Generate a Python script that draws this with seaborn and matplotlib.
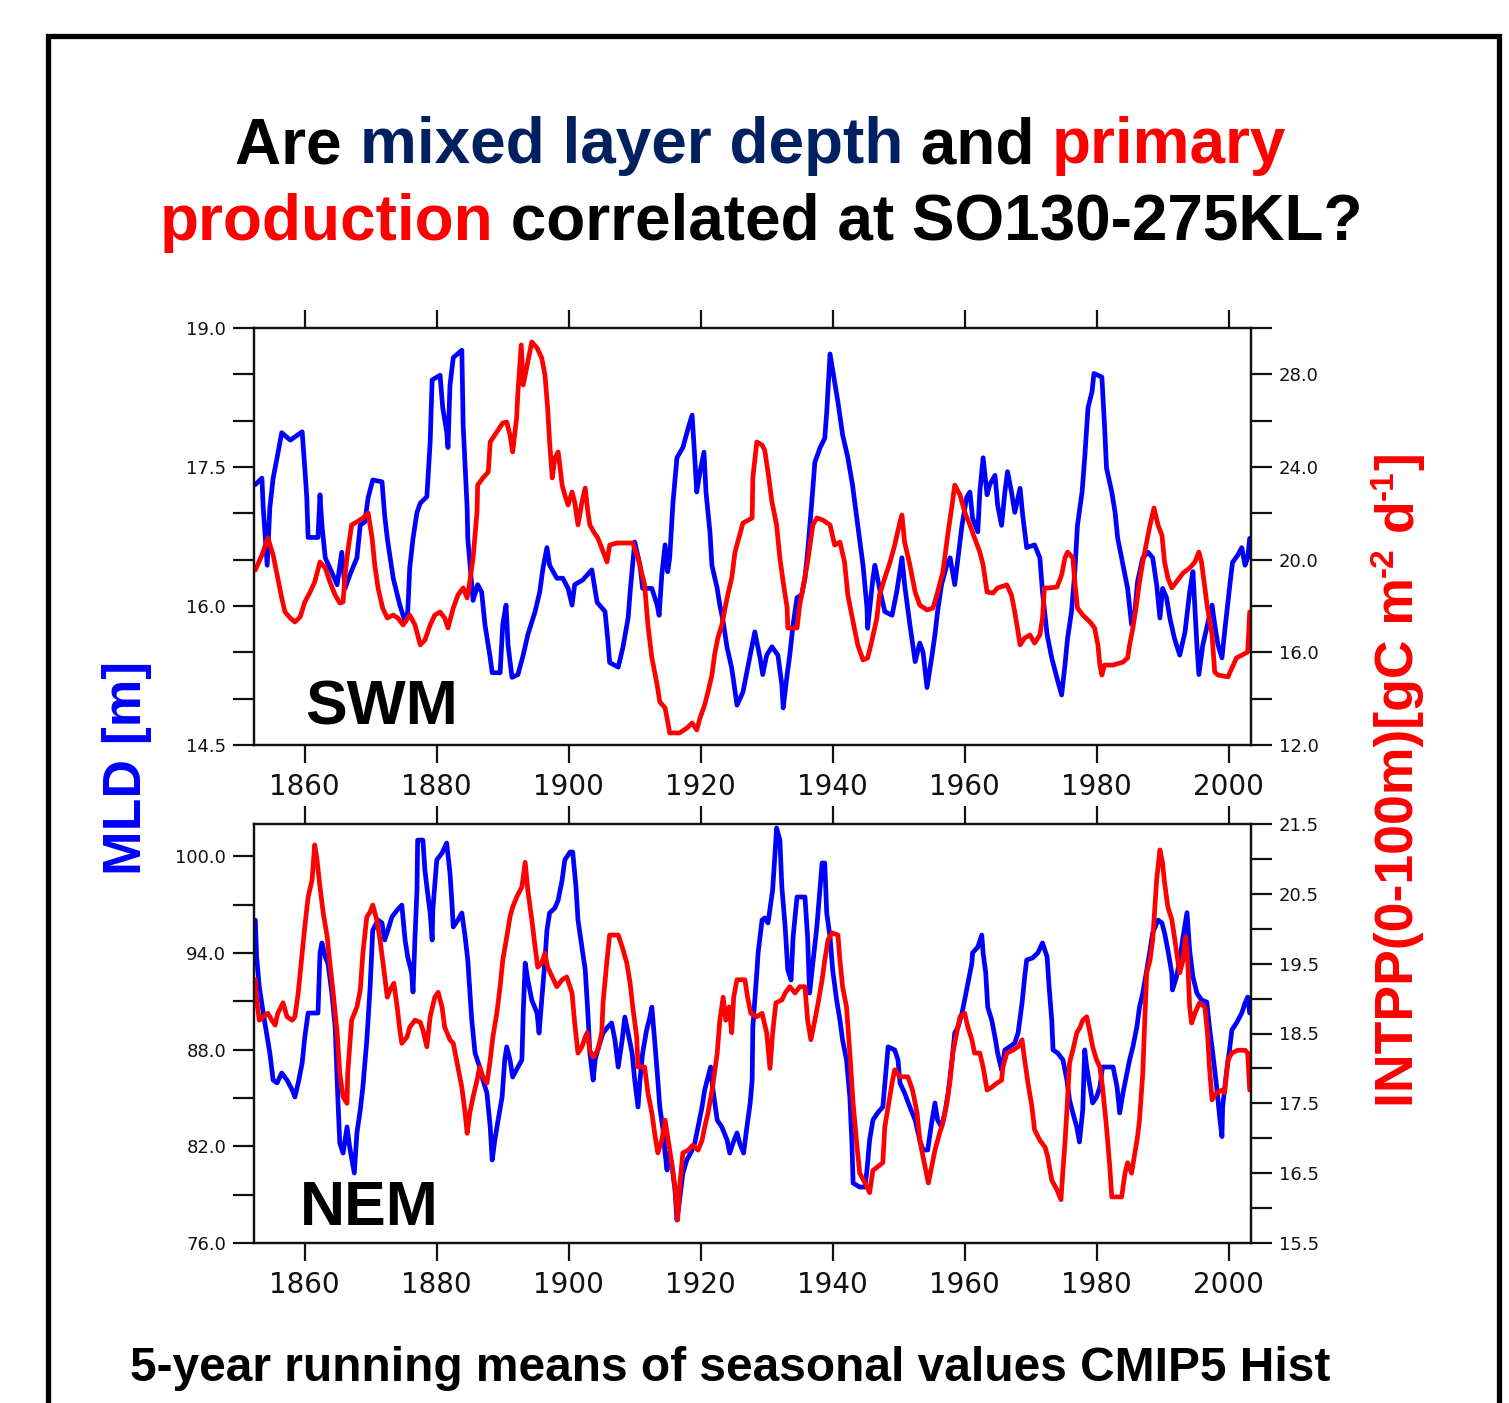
import numpy as np
import matplotlib
matplotlib.use("Agg")
import matplotlib.pyplot as plt
import seaborn as sns
from matplotlib.ticker import FixedLocator, FormatStrFormatter
from matplotlib.patches import Rectangle

sns.set_style("white")
plt.rcParams['font.family'] = ['Liberation Sans', 'DejaVu Sans']

# ---------------- data ----------------
swm_mld_year = [1852.5, 1853.5, 1853.7, 1854.3, 1854.7, 1855.2, 1855.8, 1856.5, 1857.8, 1859.6, 1860.0, 1860.3, 1860.5, 1862.0, 1862.3, 1862.6, 1863.1, 1863.8, 1864.9, 1865.6, 1866.1, 1866.8, 1867.9, 1868.4, 1869.1, 1869.6, 1870.3, 1871.7, 1872.1, 1872.5, 1873.4, 1874.4, 1875.2, 1875.6, 1875.9, 1876.4, 1877.0, 1877.5, 1878.5, 1879.0, 1879.3, 1880.5, 1880.9, 1881.5, 1881.7, 1882.0, 1882.5, 1883.8, 1884.0, 1884.6, 1884.7, 1885.3, 1885.5, 1886.2, 1886.8, 1887.3, 1888.1, 1888.4, 1889.6, 1890.0, 1890.5, 1890.8, 1891.4, 1892.3, 1893.1, 1893.8, 1894.9, 1895.6, 1896.1, 1896.7, 1897.1, 1898.2, 1899.1, 1899.9, 1900.5, 1900.9, 1902.1, 1903.5, 1904.3, 1905.5, 1905.9, 1906.2, 1907.5, 1908.2, 1909.0, 1909.3, 1910.0, 1910.8, 1911.2, 1912.6, 1913.4, 1913.7, 1914.1, 1914.6, 1915.0, 1915.3, 1915.8, 1916.4, 1917.3, 1918.1, 1918.7, 1919.1, 1919.4, 1919.9, 1920.5, 1920.8, 1921.4, 1921.7, 1922.5, 1922.9, 1923.4, 1924.0, 1924.7, 1925.5, 1926.4, 1927.0, 1927.5, 1928.2, 1929.0, 1929.4, 1930.0, 1930.8, 1931.7, 1932.3, 1932.5, 1933.1, 1933.5, 1934.0, 1934.6, 1935.3, 1935.8, 1936.2, 1936.8, 1937.3, 1938.1, 1938.8, 1939.1, 1939.3, 1939.6, 1940.3, 1940.8, 1941.5, 1942.3, 1943.0, 1943.8, 1944.6, 1945.2, 1945.3, 1946.1, 1946.4, 1947.1, 1947.9, 1949.0, 1949.7, 1950.5, 1950.9, 1951.7, 1952.5, 1953.2, 1953.7, 1954.3, 1955.0, 1955.5, 1955.9, 1956.5, 1957.3, 1957.8, 1958.5, 1959.0, 1959.6, 1960.3, 1960.8, 1961.2, 1962.0, 1962.3, 1962.8, 1963.4, 1963.8, 1964.6, 1965.0, 1965.6, 1966.1, 1966.5, 1967.1, 1967.6, 1968.4, 1968.8, 1969.4, 1970.6, 1971.4, 1971.8, 1972.5, 1973.2, 1974.0, 1974.7, 1975.2, 1975.6, 1976.2, 1976.7, 1977.1, 1977.8, 1978.2, 1978.7, 1979.3, 1979.6, 1980.8, 1981.2, 1981.5, 1982.3, 1982.8, 1983.2, 1984.0, 1984.7, 1985.3, 1985.8, 1986.2, 1987.0, 1987.8, 1988.5, 1989.1, 1989.6, 1990.0, 1990.6, 1991.1, 1991.8, 1992.6, 1993.4, 1994.1, 1994.6, 1995.2, 1995.5, 1996.1, 1996.8, 1997.5, 1997.9, 1998.4, 1999.0, 1999.4, 2000.2, 2000.6, 2001.4, 2002.0, 2002.5, 2002.9, 2003.2]
swm_mld = [17.31, 17.38, 17.06, 16.44, 17.06, 17.38, 17.60, 17.87, 17.79, 17.88, 17.49, 17.17, 16.74, 16.74, 17.20, 16.87, 16.52, 16.41, 16.23, 16.58, 16.19, 16.33, 16.52, 16.87, 16.91, 17.17, 17.36, 17.34, 16.98, 16.73, 16.30, 16.01, 15.83, 15.94, 16.41, 16.73, 17.01, 17.11, 17.18, 17.77, 18.44, 18.49, 18.14, 17.88, 17.71, 18.38, 18.68, 18.76, 17.95, 17.06, 16.73, 16.23, 16.06, 16.23, 16.15, 15.80, 15.44, 15.28, 15.28, 15.80, 16.01, 15.58, 15.23, 15.26, 15.47, 15.69, 15.94, 16.15, 16.41, 16.63, 16.44, 16.30, 16.30, 16.19, 16.01, 16.23, 16.28, 16.39, 16.04, 15.94, 15.65, 15.39, 15.34, 15.55, 15.87, 16.15, 16.69, 16.44, 16.19, 16.19, 16.01, 15.90, 16.33, 16.66, 16.37, 16.52, 17.12, 17.60, 17.71, 17.92, 18.06, 17.60, 17.23, 17.45, 17.66, 17.23, 16.80, 16.44, 16.19, 16.01, 15.83, 15.55, 15.33, 14.93, 15.07, 15.29, 15.47, 15.72, 15.44, 15.26, 15.47, 15.56, 15.47, 15.15, 14.90, 15.26, 15.47, 15.80, 16.09, 16.12, 16.30, 16.58, 17.09, 17.55, 17.71, 17.81, 18.09, 18.35, 18.72, 18.42, 18.20, 17.85, 17.60, 17.31, 16.87, 16.44, 15.98, 15.76, 16.30, 16.44, 16.19, 15.94, 15.90, 16.15, 16.52, 16.23, 15.80, 15.40, 15.60, 15.50, 15.12, 15.44, 15.69, 15.94, 16.23, 16.44, 16.52, 16.23, 16.52, 16.87, 17.17, 17.23, 16.95, 16.80, 17.23, 17.60, 17.20, 17.31, 17.41, 17.09, 16.87, 17.23, 17.45, 17.23, 17.01, 17.27, 16.98, 16.63, 16.66, 16.52, 16.15, 15.69, 15.44, 15.22, 15.04, 15.36, 15.65, 15.94, 16.37, 16.87, 17.23, 17.60, 18.14, 18.31, 18.51, 18.47, 17.95, 17.49, 17.23, 17.01, 16.73, 16.44, 16.19, 15.80, 15.94, 16.26, 16.52, 16.58, 16.52, 16.23, 15.87, 16.19, 16.09, 15.87, 15.65, 15.47, 15.72, 16.15, 16.37, 15.58, 15.26, 15.58, 15.80, 16.01, 15.80, 15.58, 15.44, 15.72, 16.23, 16.47, 16.55, 16.63, 16.44, 16.52, 16.73]

swm_pp_year = [1852.5, 1853.5, 1854.4, 1855.2, 1855.9, 1856.5, 1857.0, 1857.8, 1858.5, 1859.3, 1860.0, 1860.8, 1861.5, 1862.3, 1863.1, 1863.8, 1864.6, 1865.3, 1865.8, 1866.1, 1866.5, 1867.1, 1867.9, 1868.8, 1869.6, 1870.2, 1870.6, 1871.1, 1871.8, 1872.5, 1873.4, 1874.1, 1874.9, 1875.9, 1876.7, 1877.5, 1878.2, 1879.0, 1879.7, 1880.5, 1881.2, 1881.7, 1882.5, 1883.2, 1884.0, 1884.6, 1885.0, 1885.5, 1886.1, 1886.2, 1887.0, 1887.8, 1888.1, 1889.1, 1890.0, 1890.6, 1891.1, 1891.5, 1892.1, 1892.3, 1892.8, 1893.1, 1893.7, 1894.4, 1895.2, 1895.9, 1896.4, 1896.8, 1897.1, 1897.5, 1897.9, 1898.4, 1899.0, 1899.4, 1899.9, 1900.5, 1900.9, 1901.4, 1902.0, 1902.5, 1902.9, 1903.2, 1903.8, 1904.4, 1905.0, 1905.8, 1906.2, 1907.3, 1909.7, 1910.5, 1911.5, 1912.0, 1912.6, 1913.4, 1913.8, 1914.6, 1915.0, 1915.3, 1916.8, 1917.9, 1918.7, 1919.4, 1919.9, 1920.6, 1921.1, 1921.7, 1922.1, 1922.6, 1923.2, 1924.0, 1924.7, 1925.2, 1925.9, 1926.4, 1927.8, 1927.9, 1928.5, 1929.3, 1929.7, 1930.2, 1930.8, 1931.5, 1932.0, 1932.5, 1933.1, 1933.2, 1934.6, 1935.0, 1935.5, 1936.2, 1937.0, 1937.6, 1938.5, 1939.6, 1940.3, 1941.1, 1941.8, 1942.3, 1943.1, 1943.8, 1944.6, 1945.3, 1945.9, 1946.7, 1947.1, 1947.9, 1948.7, 1949.4, 1950.2, 1950.5, 1950.9, 1951.7, 1952.5, 1953.2, 1954.3, 1955.2, 1955.9, 1956.7, 1957.5, 1958.1, 1958.5, 1959.3, 1960.0, 1960.8, 1961.5, 1962.3, 1962.8, 1963.4, 1964.3, 1965.0, 1966.4, 1967.1, 1967.6, 1968.1, 1968.4, 1969.1, 1969.9, 1970.6, 1971.4, 1971.8, 1972.1, 1972.9, 1974.0, 1974.7, 1975.2, 1975.6, 1976.4, 1976.7, 1977.1, 1977.9, 1979.0, 1979.7, 1980.2, 1980.5, 1980.8, 1981.2, 1982.5, 1984.0, 1984.7, 1985.0, 1985.5, 1986.1, 1986.5, 1987.0, 1987.6, 1988.1, 1988.7, 1989.3, 1989.9, 1990.3, 1990.8, 1991.4, 1992.1, 1993.1, 1994.1, 1994.9, 1995.5, 1995.9, 1996.4, 1996.8, 1997.5, 1997.9, 1998.4, 1999.9, 2000.5, 2001.2, 2002.1, 2002.9, 2003.2]
swm_pp = [19.55, 20.20, 20.94, 20.20, 19.21, 18.35, 17.74, 17.48, 17.31, 17.53, 18.17, 18.60, 19.04, 19.90, 19.64, 19.04, 18.47, 18.13, 18.17, 19.34, 20.33, 21.50, 21.63, 21.80, 22.01, 20.94, 19.77, 18.78, 17.91, 17.48, 17.61, 17.48, 17.18, 17.61, 17.18, 16.32, 16.53, 17.18, 17.61, 17.74, 17.48, 17.05, 17.91, 18.47, 18.78, 18.35, 19.04, 20.07, 22.06, 23.22, 23.53, 23.78, 25.08, 25.51, 25.90, 25.94, 25.38, 24.65, 26.12, 27.24, 29.27, 27.54, 28.40, 29.40, 29.14, 28.71, 27.97, 26.55, 25.08, 23.53, 24.39, 24.65, 23.22, 22.79, 22.36, 22.92, 22.49, 21.50, 22.49, 23.09, 22.06, 21.50, 21.19, 20.94, 20.50, 19.90, 20.63, 20.72, 20.72, 20.07, 18.91, 17.18, 15.76, 14.59, 13.86, 13.60, 13.00, 12.52, 12.52, 12.73, 12.95, 12.65, 13.17, 13.73, 14.29, 15.02, 15.89, 16.62, 17.18, 18.35, 19.21, 20.33, 21.06, 21.58, 21.80, 23.53, 25.08, 24.95, 24.73, 23.78, 22.49, 21.50, 20.07, 19.04, 17.91, 17.05, 17.05, 18.04, 18.78, 19.90, 21.50, 21.80, 21.71, 21.50, 20.63, 20.76, 19.90, 18.47, 17.31, 16.32, 15.67, 15.76, 16.45, 17.48, 18.47, 19.21, 19.90, 20.63, 21.63, 21.93, 20.76, 19.77, 18.60, 18.04, 17.83, 17.91, 18.60, 19.47, 21.19, 22.36, 23.22, 22.79, 22.06, 21.50, 20.94, 20.33, 19.77, 18.60, 18.56, 18.78, 18.91, 18.47, 17.74, 16.88, 16.32, 16.62, 16.75, 16.40, 16.75, 17.48, 18.78, 18.78, 18.82, 19.34, 20.07, 20.33, 20.07, 19.04, 17.91, 17.61, 17.31, 17.05, 16.32, 15.45, 15.02, 15.45, 15.45, 15.58, 15.76, 16.32, 17.05, 18.17, 19.04, 19.90, 20.76, 21.50, 22.23, 21.50, 21.06, 19.90, 19.21, 18.78, 19.04, 19.42, 19.64, 19.90, 20.33, 19.90, 18.78, 17.91, 16.75, 15.15, 15.02, 14.94, 15.32, 15.76, 15.89, 16.02, 17.74]

nem_mld_year = [1852.5, 1852.7, 1853.1, 1853.7, 1854.3, 1854.7, 1855.2, 1855.8, 1856.5, 1857.3, 1858.1, 1858.5, 1859.0, 1859.6, 1860.0, 1860.5, 1862.0, 1862.3, 1862.6, 1863.1, 1863.5, 1864.1, 1864.6, 1865.0, 1865.3, 1865.8, 1866.4, 1866.8, 1867.5, 1867.9, 1868.4, 1868.8, 1869.4, 1869.9, 1870.3, 1871.1, 1871.7, 1872.1, 1872.6, 1873.2, 1874.0, 1874.7, 1875.2, 1875.6, 1876.2, 1876.4, 1876.7, 1877.0, 1877.1, 1877.9, 1878.2, 1878.5, 1879.0, 1879.3, 1879.4, 1880.0, 1880.8, 1881.5, 1882.0, 1882.3, 1882.5, 1883.2, 1883.8, 1884.3, 1884.7, 1885.3, 1885.8, 1886.5, 1887.0, 1887.6, 1888.1, 1888.4, 1888.8, 1889.3, 1889.9, 1890.3, 1890.6, 1891.1, 1891.5, 1892.3, 1892.9, 1893.1, 1893.4, 1893.8, 1894.4, 1895.2, 1895.5, 1895.9, 1896.4, 1896.7, 1897.1, 1897.9, 1898.4, 1899.0, 1899.4, 1900.2, 1900.6, 1901.1, 1901.4, 1902.0, 1902.5, 1902.9, 1903.2, 1903.7, 1904.0, 1904.4, 1905.2, 1905.9, 1906.5, 1907.0, 1907.5, 1908.1, 1908.5, 1909.0, 1909.6, 1910.0, 1910.5, 1910.8, 1911.2, 1911.8, 1912.3, 1912.6, 1913.1, 1913.5, 1913.8, 1914.3, 1914.6, 1914.9, 1915.0, 1915.6, 1916.1, 1916.4, 1916.8, 1917.3, 1917.9, 1918.7, 1919.1, 1919.6, 1920.2, 1920.6, 1921.1, 1921.5, 1921.8, 1922.5, 1923.2, 1924.0, 1924.4, 1924.9, 1925.5, 1925.9, 1926.5, 1927.0, 1927.5, 1927.8, 1927.9, 1928.5, 1928.7, 1929.3, 1929.7, 1930.2, 1930.9, 1931.2, 1931.5, 1932.0, 1932.3, 1932.8, 1933.2, 1933.7, 1934.0, 1934.6, 1935.8, 1936.2, 1936.5, 1937.0, 1937.6, 1938.1, 1938.4, 1938.8, 1939.1, 1939.6, 1940.0, 1940.6, 1941.1, 1941.5, 1942.1, 1942.6, 1942.9, 1943.1, 1944.1, 1944.9, 1945.2, 1945.6, 1946.1, 1946.8, 1947.6, 1948.1, 1948.4, 1949.4, 1949.9, 1950.2, 1950.9, 1951.7, 1952.5, 1953.2, 1953.7, 1954.4, 1955.0, 1955.5, 1955.9, 1956.5, 1957.0, 1957.5, 1958.1, 1958.5, 1959.0, 1959.6, 1960.0, 1960.5, 1961.1, 1961.2, 1962.0, 1962.6, 1962.8, 1963.2, 1963.5, 1964.1, 1964.6, 1965.0, 1965.6, 1966.1, 1966.8, 1967.6, 1968.1, 1968.7, 1969.1, 1969.4, 1970.3, 1971.1, 1971.8, 1972.5, 1972.8, 1973.2, 1973.4, 1974.1, 1974.9, 1975.5, 1975.9, 1976.4, 1977.0, 1977.4, 1977.9, 1978.2, 1978.5, 1979.0, 1979.4, 1980.0, 1980.5, 1980.9, 1982.0, 1982.5, 1983.1, 1983.5, 1984.0, 1984.6, 1985.0, 1985.5, 1986.1, 1986.5, 1987.0, 1987.6, 1988.1, 1988.5, 1989.3, 1989.9, 1990.3, 1990.8, 1991.4, 1991.5, 1992.1, 1992.6, 1993.1, 1993.7, 1994.1, 1994.6, 1995.2, 1995.9, 1996.7, 1997.1, 1997.6, 1998.2, 1998.7, 1999.0, 1999.1, 1999.6, 2000.2, 2000.5, 2001.2, 2002.0, 2002.5, 2002.9, 2003.2]
nem_mld = [96.04, 93.75, 91.89, 90.27, 88.78, 87.79, 86.11, 85.93, 86.55, 86.11, 85.49, 85.06, 85.93, 87.17, 88.78, 90.27, 90.27, 94.00, 94.62, 93.75, 93.37, 91.51, 89.40, 85.06, 82.20, 81.58, 83.20, 81.96, 80.34, 82.83, 84.25, 85.68, 88.60, 91.89, 95.42, 96.04, 95.86, 94.80, 95.42, 96.23, 96.66, 96.97, 94.80, 93.75, 92.75, 91.58, 94.99, 97.90, 101.0, 101.0, 99.15, 98.09, 96.48, 94.80, 96.66, 99.77, 100.20, 100.82, 98.96, 97.10, 95.61, 96.04, 96.48, 94.99, 93.56, 89.84, 87.79, 86.92, 86.11, 85.31, 83.20, 81.15, 82.39, 83.63, 85.06, 87.36, 88.17, 87.36, 86.30, 86.92, 87.36, 90.27, 93.37, 92.32, 91.08, 90.27, 89.03, 91.08, 93.56, 95.42, 96.48, 96.79, 97.28, 98.53, 99.77, 100.26, 100.26, 98.09, 96.04, 94.37, 92.94, 90.27, 87.79, 86.11, 87.36, 87.98, 89.03, 89.40, 89.65, 88.60, 86.92, 88.60, 90.02, 89.03, 87.79, 86.11, 84.44, 86.11, 87.79, 89.22, 90.02, 90.64, 88.17, 86.11, 84.44, 83.01, 81.58, 80.53, 81.58, 80.96, 79.29, 77.43, 78.67, 80.34, 81.15, 81.77, 82.20, 83.20, 84.44, 85.49, 86.30, 86.92, 85.68, 83.63, 83.20, 82.39, 81.58, 82.20, 82.83, 82.20, 81.58, 83.20, 84.69, 86.11, 89.40, 92.75, 94.00, 96.04, 96.17, 95.86, 97.90, 99.77, 101.75, 101.0, 98.09, 95.61, 92.94, 92.32, 94.99, 97.47, 97.47, 94.99, 91.51, 93.37, 95.61, 98.09, 99.58, 99.58, 96.48, 94.99, 92.94, 91.08, 89.84, 88.60, 87.36, 85.06, 82.39, 79.72, 79.47, 79.47, 80.53, 82.39, 83.63, 84.07, 84.44, 86.73, 88.17, 87.98, 87.36, 85.93, 85.31, 84.44, 83.63, 82.39, 81.77, 81.77, 83.45, 84.69, 83.63, 83.20, 84.07, 85.31, 87.36, 89.03, 89.40, 90.27, 91.08, 92.13, 93.37, 94.00, 94.37, 95.11, 94.00, 92.75, 90.64, 89.84, 88.78, 87.79, 86.73, 87.98, 88.17, 88.41, 89.03, 90.89, 92.51, 93.56, 93.69, 94.00, 94.62, 93.75, 91.89, 89.84, 87.98, 87.79, 87.36, 86.11, 84.87, 84.07, 83.20, 82.27, 84.25, 87.98, 86.92, 85.68, 84.69, 85.06, 85.68, 86.92, 86.92, 86.92, 85.68, 84.07, 85.31, 86.55, 87.36, 88.17, 89.40, 90.64, 91.51, 92.94, 94.18, 95.24, 96.04, 95.86, 95.24, 94.18, 92.75, 91.70, 92.51, 93.56, 94.99, 96.50, 94.18, 92.51, 91.51, 91.08, 90.95, 89.40, 87.79, 85.68, 83.63, 82.60, 84.44, 86.30, 88.17, 89.22, 89.65, 90.27, 90.89, 91.26, 90.27]

nem_pp_year = [1852.5, 1852.7, 1853.1, 1853.7, 1854.4, 1855.0, 1855.5, 1855.9, 1856.7, 1857.3, 1858.1, 1858.5, 1859.0, 1859.6, 1860.0, 1860.5, 1861.1, 1861.5, 1861.8, 1862.3, 1862.8, 1863.4, 1863.8, 1864.3, 1864.9, 1865.3, 1865.8, 1866.4, 1866.5, 1867.1, 1867.9, 1868.4, 1868.8, 1869.4, 1869.9, 1870.3, 1870.9, 1871.4, 1871.8, 1872.5, 1872.9, 1873.5, 1874.0, 1874.4, 1874.7, 1875.5, 1875.9, 1876.7, 1877.5, 1877.9, 1878.5, 1879.0, 1879.7, 1880.2, 1880.8, 1881.2, 1882.0, 1882.5, 1883.2, 1883.8, 1884.3, 1884.6, 1885.0, 1885.5, 1886.1, 1886.5, 1887.0, 1887.6, 1888.1, 1888.5, 1889.1, 1889.6, 1890.0, 1890.6, 1891.1, 1891.5, 1892.1, 1892.9, 1893.4, 1893.8, 1894.4, 1894.9, 1895.3, 1895.9, 1896.4, 1896.8, 1897.5, 1898.2, 1899.0, 1899.7, 1900.5, 1900.9, 1901.4, 1902.0, 1902.5, 1902.8, 1903.2, 1903.7, 1904.4, 1905.0, 1905.2, 1905.8, 1906.2, 1907.5, 1908.1, 1908.8, 1909.3, 1909.7, 1910.3, 1910.5, 1911.5, 1912.0, 1912.6, 1913.1, 1913.5, 1914.1, 1914.6, 1915.0, 1915.6, 1916.1, 1916.5, 1916.8, 1917.3, 1918.1, 1918.8, 1919.6, 1920.2, 1920.6, 1921.1, 1921.8, 1922.5, 1922.9, 1923.4, 1923.8, 1924.3, 1924.7, 1925.0, 1925.5, 1926.7, 1927.1, 1927.6, 1928.5, 1929.3, 1930.0, 1930.5, 1930.9, 1931.4, 1932.3, 1932.8, 1933.5, 1934.3, 1935.0, 1935.8, 1936.2, 1936.7, 1937.3, 1937.8, 1938.4, 1938.8, 1939.3, 1939.9, 1940.8, 1941.1, 1941.5, 1942.1, 1942.6, 1943.1, 1943.7, 1944.1, 1944.9, 1945.6, 1946.1, 1946.8, 1947.6, 1947.9, 1948.4, 1949.0, 1949.4, 1950.2, 1951.4, 1952.1, 1952.8, 1953.2, 1953.7, 1954.3, 1954.5, 1955.0, 1955.5, 1956.2, 1956.7, 1957.3, 1957.8, 1958.2, 1958.8, 1959.3, 1960.0, 1960.5, 1961.1, 1961.5, 1962.3, 1962.8, 1963.4, 1964.1, 1964.9, 1965.6, 1965.8, 1966.4, 1967.3, 1968.1, 1968.7, 1969.1, 1969.6, 1970.2, 1970.6, 1971.4, 1972.2, 1972.6, 1973.2, 1974.0, 1974.6, 1974.9, 1975.2, 1975.5, 1975.9, 1976.4, 1977.0, 1977.5, 1977.9, 1978.5, 1979.0, 1979.4, 1980.0, 1980.5, 1980.9, 1981.5, 1982.0, 1982.3, 1983.8, 1984.3, 1984.7, 1985.3, 1985.8, 1986.2, 1986.5, 1987.0, 1987.3, 1987.6, 1988.1, 1988.5, 1989.1, 1989.6, 1990.0, 1990.3, 1990.8, 1991.4, 1991.8, 1992.3, 1992.6, 1993.1, 1993.5, 1993.8, 1994.1, 1994.4, 1994.9, 1995.6, 1996.4, 1996.8, 1997.1, 1997.5, 1998.2, 1999.0, 1999.4, 1999.9, 2000.5, 2001.4, 2002.5, 2002.9, 2003.2]
nem_pp = [19.27, 18.98, 18.69, 18.74, 18.79, 18.69, 18.62, 18.79, 18.94, 18.74, 18.69, 18.74, 19.08, 19.65, 20.03, 20.45, 20.70, 21.20, 21.03, 20.60, 20.22, 19.88, 19.51, 19.08, 18.51, 17.93, 17.59, 17.50, 17.93, 18.69, 18.88, 19.12, 19.65, 20.17, 20.24, 20.34, 20.13, 19.84, 19.55, 19.02, 19.12, 19.22, 18.88, 18.55, 18.36, 18.45, 18.59, 18.69, 18.66, 18.55, 18.31, 18.74, 19.02, 19.09, 18.88, 18.59, 18.41, 18.36, 18.02, 17.73, 17.36, 17.07, 17.36, 17.59, 17.83, 18.02, 17.88, 17.79, 18.12, 18.45, 18.79, 19.17, 19.55, 19.88, 20.17, 20.31, 20.45, 20.60, 20.95, 20.55, 20.13, 19.74, 19.45, 19.51, 19.65, 19.45, 19.31, 19.17, 19.27, 19.31, 19.08, 18.65, 18.22, 18.31, 18.45, 18.51, 18.26, 18.16, 18.26, 18.51, 18.94, 19.55, 19.91, 19.91, 19.74, 19.51, 19.22, 18.88, 18.45, 18.02, 18.02, 17.65, 17.36, 17.02, 16.79, 16.97, 17.26, 17.02, 16.65, 16.30, 15.83, 16.30, 16.79, 16.83, 16.90, 16.83, 16.97, 17.16, 17.36, 17.73, 18.22, 18.69, 19.02, 18.69, 18.88, 18.51, 19.02, 19.27, 19.27, 19.02, 18.79, 18.74, 18.79, 18.51, 18.00, 18.51, 18.94, 18.98, 19.08, 19.17, 19.08, 19.17, 19.17, 18.69, 18.41, 18.69, 18.94, 19.27, 19.55, 19.84, 19.94, 19.91, 19.55, 19.17, 18.88, 18.22, 17.50, 16.87, 16.50, 16.36, 16.22, 16.54, 16.59, 16.65, 17.16, 17.45, 17.79, 17.98, 17.88, 17.88, 17.69, 17.36, 16.97, 16.73, 16.45, 16.36, 16.59, 16.83, 17.07, 17.22, 17.50, 17.83, 18.22, 18.51, 18.74, 18.79, 18.59, 18.41, 18.22, 18.22, 18.02, 17.69, 17.73, 17.79, 17.83, 18.02, 18.22, 18.26, 18.31, 18.41, 18.12, 17.79, 17.45, 17.12, 16.97, 16.87, 16.73, 16.40, 16.26, 16.12, 16.54, 16.93, 17.40, 18.08, 18.26, 18.51, 18.59, 18.69, 18.74, 18.51, 18.31, 18.12, 18.02, 17.73, 17.16, 16.59, 16.16, 16.16, 16.50, 16.65, 16.50, 16.79, 17.02, 17.26, 17.93, 18.69, 19.37, 19.55, 19.84, 20.70, 21.13, 20.94, 20.66, 20.31, 20.13, 19.88, 19.55, 19.37, 19.55, 19.88, 19.55, 18.88, 18.65, 18.79, 18.94, 18.88, 18.51, 18.02, 17.55, 17.65, 17.69, 17.65, 18.12, 18.22, 18.26, 18.26, 18.22, 17.69]

x_ticks = [1860, 1880, 1900, 1920, 1940, 1960, 1980, 2000]
swm_left_ticks = [14.5, 16.0, 17.5, 19.0]
swm_right_ticks = [12.0, 16.0, 20.0, 24.0, 28.0]
nem_left_ticks = [76.0, 82.0, 88.0, 94.0, 100.0]
nem_right_ticks = [15.5, 16.5, 17.5, 18.5, 19.5, 20.5, 21.5]

BLUE = "#0000FF"
RED = "#FF0000"
NAVY = "#002060"

W, H = 1509, 1403
fig = plt.figure(figsize=(W / 100, H / 100), dpi=100)
fig.patch.set_facecolor("white")


def fx(px):
    return px / W


def fy(py):
    return 1 - py / H


def setup_panel(box, ylim_l, ylim_r, lticks, lminor, rticks, rminor,
                d_mld, y_mld, d_pp, y_pp, tag, tagpos):
    left, top, right, bottom = box
    ax = fig.add_axes([fx(left), fy(bottom), fx(right - left), (bottom - top) / H])
    ax2 = ax.twinx()
    sns.lineplot(x=d_mld, y=y_mld, ax=ax, color=BLUE, linewidth=3.4,
                 estimator=None, legend=False)
    sns.lineplot(x=d_pp, y=y_pp, ax=ax2, color=RED, linewidth=3.4,
                 estimator=None, legend=False)
    ax.set_xlim(1852.3, 2003.4)
    ax.set_ylim(*ylim_l)
    ax2.set_ylim(*ylim_r)
    ax.set_xlabel("")
    ax.set_ylabel("")
    ax2.set_ylabel("")
    ax.grid(False)
    ax2.grid(False)
    ax.xaxis.set_major_locator(FixedLocator(x_ticks))
    ax.yaxis.set_major_locator(FixedLocator(lticks))
    ax.yaxis.set_minor_locator(FixedLocator(lminor))
    ax2.yaxis.set_major_locator(FixedLocator(rticks))
    ax2.yaxis.set_minor_locator(FixedLocator(rminor))
    ax.yaxis.set_major_formatter(FormatStrFormatter("%.1f"))
    ax2.yaxis.set_major_formatter(FormatStrFormatter("%.1f"))
    for a in (ax, ax2):
        for sp in a.spines.values():
            sp.set_linewidth(1.6)
            sp.set_color("#111111")
            sp.set_visible(True)
    ax.tick_params(axis="x", which="major", direction="out", length=13, width=1.6,
                   top=True, bottom=True, labeltop=False, labelbottom=True,
                   labelsize=20, pad=7, colors="#111111")
    ax.tick_params(axis="y", which="both", direction="out", length=15, width=1.6,
                   left=True, right=False, labelsize=13, pad=5, colors="#111111")
    ax2.tick_params(axis="y", which="both", direction="out", length=15, width=1.6,
                    right=True, left=False, labelsize=13, pad=5, colors="#111111")
    ax2.tick_params(axis="x", which="both", bottom=False, top=False,
                    labelbottom=False, labeltop=False)
    for lbl in ax.get_xticklabels() + ax.get_yticklabels() + ax2.get_yticklabels():
        lbl.set_fontfamily("DejaVu Sans")
    ax.text(tagpos[0], tagpos[1], tag, transform=ax.transAxes, fontsize=45,
            fontweight="bold", color="black", ha="left", va="baseline", zorder=10)
    return ax, ax2


setup_panel((254, 328, 1251, 745), (14.5, 19.0), (12.0, 30.0),
            swm_left_ticks, list(np.arange(14.5, 19.01, 0.5)),
            swm_right_ticks, list(np.arange(12.0, 30.01, 2.0)),
            swm_mld_year, swm_mld, swm_pp_year, swm_pp, "SWM", (0.051, 0.048))

setup_panel((254, 824, 1251, 1243), (76.0, 102.0), (15.5, 21.5),
            nem_left_ticks, list(np.arange(76.0, 100.01, 3.0)),
            nem_right_ticks, list(np.arange(15.5, 21.51, 0.5)),
            nem_mld_year, nem_mld, nem_pp_year, nem_pp, "NEM", (0.046, 0.043))

# ---------------- text helpers ----------------
renderer = fig.canvas.get_renderer()


def text_width(s, size):
    if not s:
        return 0.0
    t = fig.text(0, 0, s + "|", fontsize=size, fontweight="bold")
    w1 = t.get_window_extent(renderer).width
    t.remove()
    t = fig.text(0, 0, "|", fontsize=size, fontweight="bold")
    w2 = t.get_window_extent(renderer).width
    t.remove()
    return w1 - w2


def colored_line(pieces, xc_px, ybase_px, size):
    full = "".join(p for p, _ in pieces)
    total = text_width(full, size)
    x0 = xc_px - total / 2
    prefix = ""
    for s, c in pieces:
        off = text_width(prefix, size)
        fig.text(fx(x0 + off), fy(ybase_px), s, fontsize=size, fontweight="bold",
                 color=c, ha="left", va="baseline")
        prefix += s


def vertical_label(pieces, xbase_px, yc_px, color):
    # pieces: (text, size, raise_px); drawn bottom-to-top, rotated 90 degrees
    widths = [text_width(s, sz) for s, sz, _ in pieces]
    total = sum(widths)
    y = yc_px + total / 2
    for (s, sz, rs), w in zip(pieces, widths):
        fig.text(fx(xbase_px - rs), fy(y), s, fontsize=sz, fontweight="bold",
                 color=color, rotation=90, rotation_mode="anchor",
                 ha="left", va="baseline")
        y -= w


colored_line([("Are ", "black"), ("mixed layer depth", NAVY), (" and ", "black"),
              ("primary", RED)], 761, 163, 46)
colored_line([("production", RED), (" correlated at SO130-275KL?", "black")],
             761, 240, 46)

# ---------------- axis labels ----------------
vertical_label([("MLD [m]", 38.5, 0)], 141, 768, BLUE)
vertical_label([("INTPP(0-100m)[gC m", 38.5, 0), ("-2", 24, 20), (" d", 38.5, 0),
                ("-1", 24, 20), ("]", 38.5, 0)], 1413, 780, RED)

fig.text(fx(730), fy(1381), "5-year running means of seasonal values CMIP5 Hist",
         fontsize=34.5, fontweight="bold", color="black", ha="center", va="baseline")

# ---------------- outer frame ----------------
fig.add_artist(Rectangle((fx(48), -0.05), fx(1499 - 48), fy(36) + 0.05,
                         transform=fig.transFigure, fill=False, lw=3.8,
                         edgecolor="black", clip_on=False))

fig.savefig("out.png", dpi=100, facecolor="white")
